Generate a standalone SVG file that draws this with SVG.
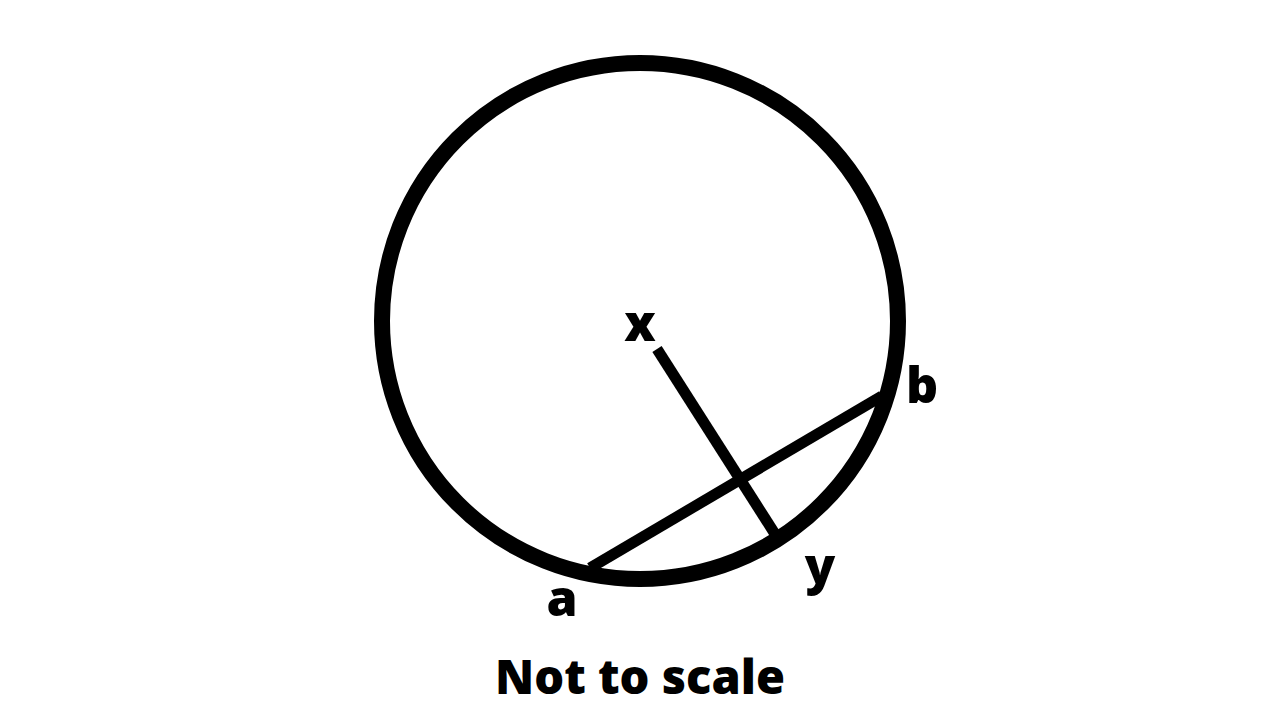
<svg xmlns="http://www.w3.org/2000/svg" width="1280" height="720" viewBox="0 0 1280 720">
<style>
.lbl{font-family:"Open Sans","Noto Sans",sans-serif;font-weight:800;font-size:50px;fill:#000}
.cap{font-size:47px}
.ln{stroke:#000;stroke-width:11;fill:none}
</style>
<rect width="1280" height="720" fill="#fff"/>
<g id="circle"><circle cx="640" cy="321" r="258" fill="none" stroke="#000" stroke-width="16"/></g>
<g id="connectors">
<line class="ln" x1="590" y1="568" x2="882" y2="396"/>
<line class="ln" x1="657" y1="349" x2="775" y2="534"/>
</g>
<g id="label-x"><text class="lbl" x="640" y="341" text-anchor="middle">x</text></g>
<g id="label-b"><text class="lbl" x="922" y="403" text-anchor="middle">b</text></g>
<g id="label-a"><text class="lbl" x="562" y="616" text-anchor="middle">a</text></g>
<g id="label-y"><text class="lbl" x="820" y="584" text-anchor="middle">y</text></g>
<g id="caption"><text class="lbl cap" x="640" y="694" text-anchor="middle">Not to scale</text></g>
</svg>
